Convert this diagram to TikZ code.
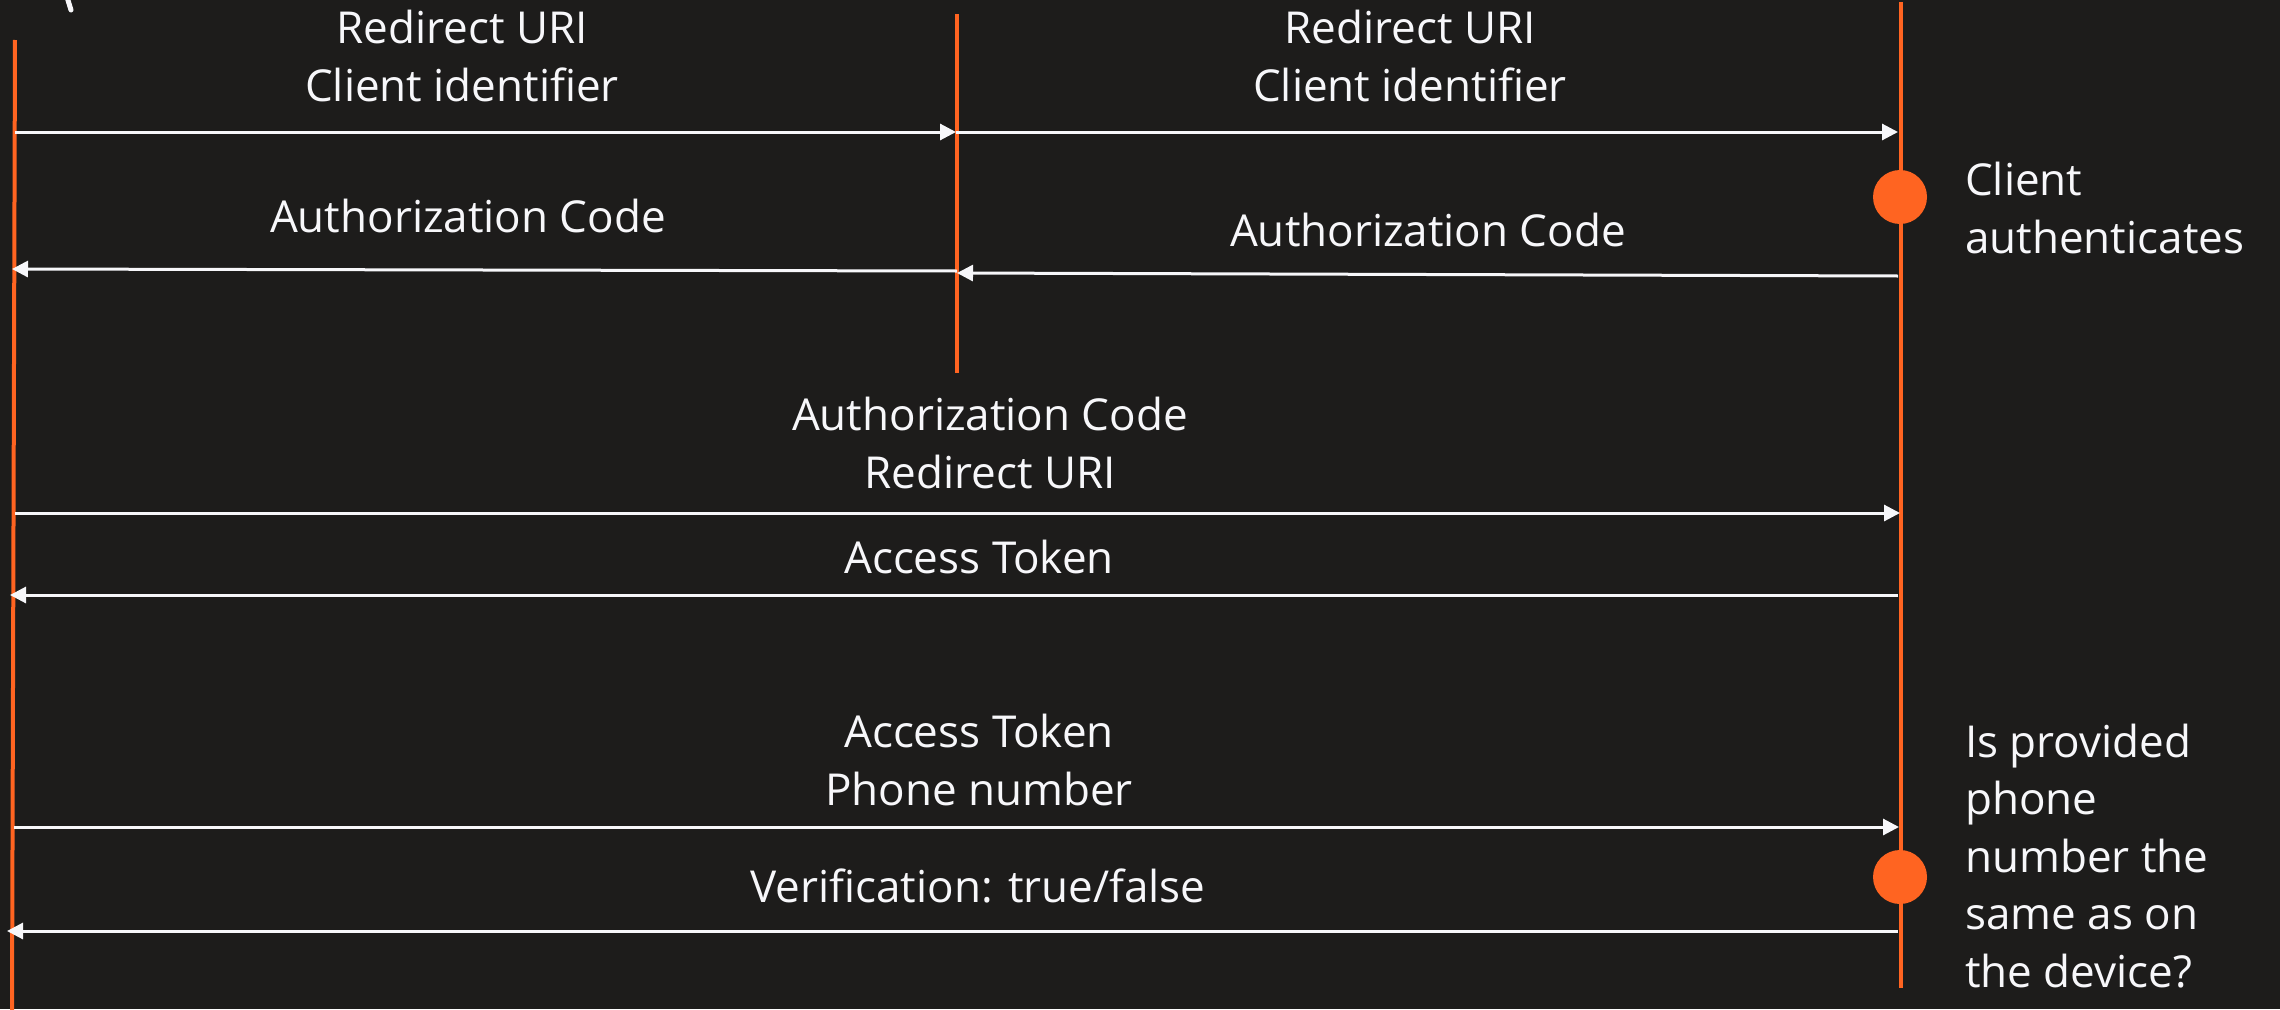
\documentclass[tikz,border=0pt]{standalone}
\usepackage{fontspec}
\setmainfont{Open Sans}
\usetikzlibrary{arrows.meta}
\definecolor{bg}{HTML}{1D1C1B}
\definecolor{life}{HTML}{FF6421}
\definecolor{msg}{HTML}{F7F7FA}

\begin{document}
\begin{tikzpicture}[x=1pt,y=-1pt,
  lifeline/.style={draw=life,line width=4pt},
  message/.style={draw=msg,line width=3pt,-{Triangle[length=16pt,width=16pt]}},
  label/.style={text=msg,font=\fontsize{44}{58}\selectfont,align=center,inner sep=0pt,anchor=base},
  note/.style={text=msg,font=\fontsize{44}{57.5}\selectfont,align=left,inner sep=0pt,anchor=base west},
  event/.style={circle,fill=life,minimum size=54pt,inner sep=0pt}]

% canvas
\fill[bg] (0,0) rectangle (2280,1009);
\useasboundingbox (0,0) rectangle (2280,1009);

% small pen stroke at the top edge
\draw[msg,line width=5pt,line cap=round] (67,-3) -- (71,10);

% lifelines
\coordinate (A0) at (15,40);   \coordinate (A1) at (12,1012);
\coordinate (B0) at (957,14);  \coordinate (B1) at (957,373);
\coordinate (C0) at (1901,2);  \coordinate (C1) at (1901,988);
\draw[lifeline] (A0) -- (A1);
\draw[lifeline] (B0) -- (B1);
\draw[lifeline] (C0) -- (C1);

% events on the right lifeline
\node[event] (ev1) at (1900,197) {};
\node[event] (ev2) at (1900,877) {};

% message end points
\coordinate (a1) at (15,132);   \coordinate (b1) at (956,132);  \coordinate (c1) at (1898,132);
\coordinate (c2) at (1898,276); \coordinate (b2) at (957,273);  \coordinate (b2l) at (957,271);
\coordinate (a2) at (12,269);
\coordinate (a3) at (15,513);   \coordinate (c3) at (1900,513);
\coordinate (c4) at (1898,595); \coordinate (a4) at (10,595);
\coordinate (a5) at (14,827);   \coordinate (c5) at (1899,827);
\coordinate (c6) at (1898,931); \coordinate (a6) at (7,931);

% messages
\draw[message] (a1) -- (b1);
\draw[message] (b1) -- (c1);
\draw[message] (c2) -- (b2);
\draw[message] (b2l) -- (a2);
\draw[message] (a3) -- (c3);
\draw[message] (c4) -- (a4);
\draw[message] (a5) -- (c5);
\draw[message] (c6) -- (a6);

% message labels (a multi-line label sits on the baseline of its last line)
\node[label] (t1) at (462,101) {Redirect URI\\Client identifier};
\node[label] (t2) at (1410,101) {Redirect URI\\Client identifier};
\node[label] (t3) at (468,232) {Authorization Code};
\node[label] (t4) at (1428,246) {Authorization Code};
\node[label] (t5) at (990,488) {Authorization Code\\Redirect URI};
\node[label] (t6) at (979,573) {Access Token};
\node[label] (t7) at (979,805) {Access Token\\Phone number};
\node[label] (t8) at (978,902) {Verification: true/false};

% notes beside the events
\node[note] (n1) at (1965,253) {Client\\authenticates};
\node[note] (n2) at (1965,987) {Is provided\\phone\\number the\\same as on\\the device?};
\end{tikzpicture}
\end{document}
